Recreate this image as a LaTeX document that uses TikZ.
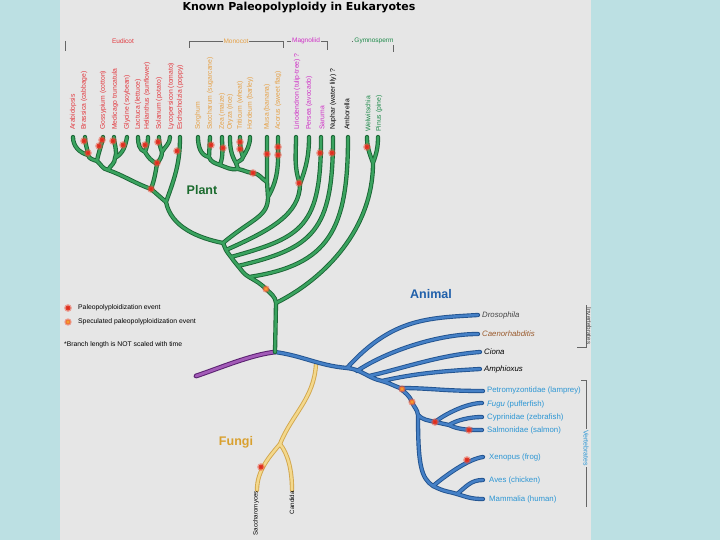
\documentclass[tikz,border=0pt]{standalone}
\usepackage{fontspec}
\setmainfont{Liberation Sans}
\newfontfamily\titlefont{DejaVu Sans}
\definecolor{bgblue}{HTML}{BCE0E3}
\definecolor{panel}{HTML}{E6E6E6}
\definecolor{pdk}{HTML}{1B6535}
\definecolor{plt}{HTML}{3AA35F}
\definecolor{adk}{HTML}{22538F}
\definecolor{alt}{HTML}{4580C6}
\definecolor{fdk}{HTML}{D2A64C}
\definecolor{flt}{HTML}{F3D88C}
\definecolor{udk}{HTML}{5A2170}
\definecolor{ult}{HTML}{A35BB8}
\definecolor{cEu}{HTML}{E2373D}
\definecolor{cMo}{HTML}{E5A045}
\definecolor{cMa}{HTML}{CF2FC6}
\definecolor{cGy}{HTML}{1E8A4A}
\definecolor{cVt}{HTML}{2C96D4}
\definecolor{cCa}{HTML}{9A5A2C}
\definecolor{evr}{HTML}{D8281C}
\definecolor{evh}{HTML}{F0503A}
\definecolor{spo}{HTML}{F2A22E}
\definecolor{plantg}{HTML}{1B6B2E}
\definecolor{animb}{HTML}{1F5FAA}
\definecolor{fungo}{HTML}{D9A02E}
\definecolor{dgray}{HTML}{444444}
\tikzset{
  tube/.style={line width=0.9pt, double distance=2.5pt, line cap=round, line join=round},
  pl/.style={tube, draw=pdk, double=plt},
  an/.style={tube, draw=adk, double=alt},
  fu/.style={tube, draw=fdk, double=flt},
  pu/.style={tube, line width=1pt, double distance=2.8pt, draw=udk, double=ult},
  ev/.style={circle, inner sep=0pt, minimum size=5pt, fill=evr, draw=evh, draw opacity=0.45, line width=2.6pt},
  spv/.style={circle, inner sep=0pt, minimum size=5pt, fill=spo, draw=evh, draw opacity=0.5, line width=2.2pt},
  lab/.style={rotate=90, anchor=west, inner sep=0pt, font=\fontsize{6.8}{7}\selectfont},
  alab/.style={anchor=west, inner sep=0pt, text=cVt, font=\fontsize{7.8}{9}\selectfont},
  blab/.style={inner sep=1pt, fill=panel, font=\fontsize{6.5}{7}\selectfont},
  big/.style={font=\bfseries\fontsize{12.5}{14}\selectfont},
  brk/.style={draw=gray!80!black, line width=0.6pt},
}
\begin{document}
\begin{tikzpicture}[x=1pt,y=1pt]
\useasboundingbox (0,0) rectangle (720,-540);
\fill[bgblue] (0,0) rectangle (720,-540);
\fill[panel] (60,0) rectangle (591,-540);

\node[font=\titlefont\bfseries\fontsize{11}{13}\selectfont] (title) at (299,-8) {Known Paleopolyploidy in Eukaryotes};

% ---- group brackets
\draw[brk] (65,-41) -- (65,-51);
\node[blab, text=cEu] (gEu) at (123,-41) {Eudicot};
\draw[brk] (189,-48) -- (189,-41) -- (283,-41) -- (283,-48);
\node[blab, text=cMo] (gMo) at (236,-41) {Monocot};
\draw[brk] (287,-41) -- (327,-41) -- (327,-50);
\node[blab, text=cMa] (gMa) at (306,-41) {Magnoliid};
\draw[brk] (352,-41) -- (393,-41) -- (393,-52);
\node[blab, text=cGy] (gGy) at (374,-41) {Gymnosperm};

% ---- coordinates: plant
\coordinate (root) at (275,-352);
\coordinate (s1) at (276,-303);
\coordinate (spc) at (266,-289);
\coordinate (s2) at (249,-277);
\coordinate (s3) at (238,-266);
\coordinate (s4) at (231,-257);
\coordinate (s5) at (226,-250);
\coordinate (s6) at (223,-243);
% eudicots
\coordinate (tA) at (73,-137);  \coordinate (tB) at (85,-137);
\coordinate (jAB) at (88,-155);
\coordinate (tGo) at (103,-137); \coordinate (jMal) at (97,-161);
\coordinate (tMe) at (114,-137); \coordinate (tGl) at (127,-137);
\coordinate (jFab) at (115,-158);
\coordinate (jR) at (108,-170);
\coordinate (tLa) at (138,-137); \coordinate (tHe) at (148,-137);
\coordinate (jLH) at (145,-152);
\coordinate (tSo) at (159,-137); \coordinate (tLy) at (170,-137);
\coordinate (jSL) at (162,-152);
\coordinate (jAst) at (157,-164);
\coordinate (jC) at (151,-189);
\coordinate (tEs) at (180,-137);
\coordinate (jE) at (166,-202);
% monocots
\coordinate (tSg) at (198,-137); \coordinate (tSa) at (210,-137);
\coordinate (jSS) at (209,-157);
\coordinate (tZe) at (222,-137); \coordinate (jPan) at (220,-165);
\coordinate (tOr) at (230,-137); \coordinate (tTr) at (240,-137);
\coordinate (tHo) at (250,-137);
\coordinate (jPoo) at (243,-157); \coordinate (jBOP) at (236,-163);
\coordinate (jGr) at (238,-169);
\coordinate (jM1) at (253,-173);
\coordinate (tMu) at (267,-137); \coordinate (jMu) at (267,-182);
\coordinate (tAc) at (278,-137); \coordinate (jMon) at (268,-197);
% magnoliids and others
\coordinate (tLi) at (296,-137); \coordinate (tPe) at (309,-137);
\coordinate (jMg) at (300,-184);
\coordinate (tSr) at (321,-137);
\coordinate (tNu) at (333,-137);
\coordinate (tAm) at (348,-137);
\coordinate (tWe) at (367,-137); \coordinate (tPi) at (378,-137);
\coordinate (jGy) at (373,-163);

% ---- coordinates: animal
\coordinate (a1) at (347,-368);
\coordinate (a2) at (357,-371);
\coordinate (a3) at (369,-376);
\coordinate (a4) at (382,-381);
\coordinate (aV) at (400,-388);
\coordinate (tDr) at (478,-315);
\coordinate (tCa) at (478,-334);
\coordinate (tCi) at (480,-352);
\coordinate (tAp) at (480,-369);
\coordinate (tPm) at (483,-391);
\coordinate (aG) at (412,-402);
\coordinate (aF) at (418,-415);
\coordinate (jFi) at (435,-422);
\coordinate (jCS) at (449,-425);
\coordinate (tFu) at (482,-403);
\coordinate (tCy) at (482,-417);
\coordinate (tSl) at (482,-430);
\coordinate (aT) at (433,-486);
\coordinate (tXe) at (483,-457);
\coordinate (jAM) at (457,-494);
\coordinate (tAv) at (483,-480);
\coordinate (tMa) at (483,-499);

% ---- coordinates: fungi, purple
\coordinate (fS) at (316,-364);
\coordinate (fJ) at (280,-444);
\coordinate (fSa) at (257,-490);
\coordinate (fCa) at (292,-490);
\coordinate (pE) at (196,-376);

% ---- purple branch
\draw[pu] (root) .. controls +(-25,-3) and +(24,8) .. (pE);

% ---- fungi
\draw[fu] (fS) .. controls +(-2,-35) and +(12,30) .. (fJ)
  (fJ) .. controls +(-10,-12) and +(0,20) .. (fSa)
  (fJ) .. controls +(8,-10) and +(0,20) .. (fCa);

% ---- animal
\draw[an] (root) to[out=-8,in=175] (a1) to[out=-5,in=168] (a4) to[out=-15,in=160] (aV)
  (a1) .. controls +(45,50) and +(-50,-3) .. (tDr)
  (a2) .. controls +(30,20) and +(-40,0) .. (tCa)
  (a3) .. controls +(35,8) and +(-40,-3) .. (tCi)
  (a4) .. controls +(35,8) and +(-35,-2) .. (tAp)
  (aV) .. controls +(30,0) and +(-40,0) .. (tPm)
  (aV) to[out=-45,in=110] (aG) to[out=-70,in=95] (aF)
  (aF) .. controls +(0,-50) and +(-12,8) .. (aT)
  (aF) .. controls +(5,-5) and +(-8,2) .. (jFi)
  (jFi) .. controls +(10,8) and +(-15,0) .. (tFu)
  (jFi) -- (jCS)
  (jCS) .. controls +(8,5) and +(-12,0) .. (tCy)
  (jCS) .. controls +(10,-5) and +(-12,0) .. (tSl)
  (aT) .. controls +(12,10) and +(-15,-2) .. (tXe)
  (aT) .. controls +(12,-6) and +(-10,3) .. (jAM)
  (jAM) .. controls +(10,8) and +(-12,0) .. (tAv)
  (jAM) .. controls +(10,-3) and +(-12,0) .. (tMa);

% ---- plant
\draw[pl] (root) -- (s1) to[out=95,in=-45] (spc) to[out=135,in=-30] (s2)
    to[out=150,in=-50] (s3) to[out=130,in=-55] (s4) to[out=125,in=-62] (s5) to[out=118,in=-70] (s6)
  % eudicots
  (tA) to[out=-90,in=165] (jAB)
  (tB) to[out=-90,in=95] (jAB)
  (jAB) to[out=-75,in=160] (jMal)
  (tGo) to[out=-100,in=80] (jMal)
  (tMe) to[out=-90,in=70] (jFab)
  (tGl) to[out=-100,in=30] (jFab)
  (jMal) to[out=-40,in=170] (jR)
  (jFab) to[out=-90,in=60] (jR)
  (jR) to[out=-20,in=160] (jC)
  (tLa) to[out=-90,in=160] (jLH)
  (tHe) to[out=-90,in=70] (jLH)
  (tSo) to[out=-90,in=110] (jSL)
  (tLy) to[out=-90,in=60] (jSL)
  (jLH) to[out=-60,in=150] (jAst)
  (jSL) to[out=-90,in=60] (jAst)
  (jAst) to[out=-100,in=70] (jC)
  (jC) to[out=-40,in=140] (jE)
  (tEs) to[out=-90,in=70] (jE)
  (jE) .. controls +(5,-25) and +(-25,5) .. (s6)
  % monocots
  (tSg) to[out=-90,in=170] (jSS)
  (tSa) -- (jSS)
  (jSS) to[out=-70,in=160] (jPan)
  (tZe) to[out=-90,in=70] (jPan)
  (tTr) to[out=-90,in=110] (jPoo)
  (tHo) to[out=-90,in=60] (jPoo)
  (tOr) to[out=-90,in=120] (jBOP)
  (jPoo) to[out=-100,in=40] (jBOP)
  (jPan) to[out=-20,in=190] (jGr)
  (jBOP) to[out=-80,in=110] (jGr)
  (jGr) to[out=-10,in=175] (jM1)
  (jM1) to[out=-5,in=150] (jMu)
  (tMu) -- (jMu) -- (jMon)
  (tAc) to[out=-90,in=60] (jMon)
  (jMon) .. controls +(0,-20) and +(30,25) .. (s6)
  % magnoliids, ANA, gymnosperms
  (tLi) to[out=-90,in=110] (jMg)
  (tPe) to[out=-90,in=70] (jMg)
  (jMg) .. controls +(0,-30) and +(45,20) .. (s5)
  (tSr) .. controls +(0,-90) and +(72,20) .. (s4)
  (tNu) .. controls +(0,-95) and +(75,18) .. (s3)
  (tAm) .. controls +(0,-93) and +(80,12) .. (s2)
  (tWe) to[out=-90,in=110] (jGy)
  (tPi) to[out=-90,in=70] (jGy)
  (jGy) .. controls +(0,-65) and +(50,25) .. (s1);

% ---- events
\foreach \x/\y [count=\i] in {84/141,88/153,102/140,99/146,113/141,123/145,145/145,158/142,157/163,151/189,177/151,
   211/145,223/148,240/142,240/149,253/173,267/154,278/147,278/155,299/183,320/153,332/153,367/147,
   435/422,469/430,467/460,261/467}
  \node[ev] (ev\i) at (\x,-\y) {};
\node[spv] (sp1) at (spc) {};
\node[spv] (sp2) at (402,-389) {};
\node[spv] (sp3) at (aG) {};

% ---- plant labels
\foreach \x/\t in {73/Arabidopsis,84/Brassica (cabbage),103/Gossypium (cotton),115/Medicago truncatula,
   127/Glycine (soybean),138/Lactuca (lettuce),147/Helianthus (sunflower),159/Solanum (potato),
   171/Lycopersicon (tomato),180/Eschscholzia (poppy)}
  \node[lab, text=cEu] (L\x) at (\x,-130) {\t};
\foreach \x/\t in {198/Sorghum,210/Saccharum (sugarcane),222/Zea (maize),230/Oryza (rice),
   240/Triticum (wheat),250/Hordeum (barley),267/Musa (banana),278/Acorus (sweet flag)}
  \node[lab, text=cMo] (L\x) at (\x,-130) {\t};
\foreach \x/\t in {297/Liriodendron (tulip-tree) ?,309/Persea (avocado),322/Saruma}
  \node[lab, text=cMa] (L\x) at (\x,-130) {\t};
\node[lab, text=black] (L333) at (333,-130) {Nuphar (water lily) ?};
\node[lab, text=black] (L347) at (347,-130) {Amborella};
\node[lab, text=cGy] (L368) at (368,-132) {Welwitschia};
\node[lab, text=cGy] (L379) at (379,-132) {Pinus (pine)};

% ---- big labels
\node[big, text=plantg] (plant) at (202,-190) {Plant};
\node[big, text=animb] (animal) at (431,-294) {Animal};
\node[big, text=fungo] (fungi) at (236,-442) {Fungi};

% ---- animal labels
\node[alab, text=dgray, font=\itshape\fontsize{7.8}{9}\selectfont] (lDr) at (482,-315) {Drosophila};
\node[alab, text=cCa, font=\itshape\fontsize{7.8}{9}\selectfont] (lCa) at (482,-334) {Caenorhabditis};
\node[alab, text=black, font=\itshape\fontsize{7.8}{9}\selectfont] (lCi) at (484,-352) {Ciona};
\node[alab, text=black, font=\itshape\fontsize{7.8}{9}\selectfont] (lAp) at (484,-369) {Amphioxus};
\node[alab] (lPm) at (487,-390) {Petromyzontidae (lamprey)};
\node[alab] (lFu) at (487,-404) {\textit{Fugu} (pufferfish)};
\node[alab] (lCy) at (487,-417) {Cyprinidae (zebrafish)};
\node[alab] (lSl) at (487,-430) {Salmonidae (salmon)};
\node[alab] (lXe) at (489,-457) {Xenopus (frog)};
\node[alab] (lAv) at (489,-480) {Aves (chicken)};
\node[alab] (lMa) at (489,-499) {Mammalia (human)};

% ---- fungi labels
\node[lab, anchor=east, font=\fontsize{6.2}{7}\selectfont] (lSc) at (256,-491) {Saccharomyces};
\node[lab, anchor=east, font=\fontsize{6.2}{7}\selectfont] (lCd) at (292,-491) {Candida};

% ---- invertebrate / vertebrate brackets
\draw[brk] (586,-305) -- (586,-347) -- (577,-347);
\node[rotate=-90, inner sep=0pt, text=dgray, font=\fontsize{6.3}{7}\selectfont] (inv) at (589,-326) {Invertebrates};
\draw[brk] (581,-380) -- (586,-380) -- (586,-507);
\node[rotate=-90, inner sep=1pt, fill=panel, text=cVt, font=\fontsize{7}{8}\selectfont] (vert) at (586,-448) {Vertebrates};

% ---- legend
\node[ev] (lg1) at (68,-308) {};
\node[anchor=west, inner sep=0pt, font=\fontsize{6.8}{8}\selectfont] (lt1) at (78,-308) {Paleopolyploidization event};
\node[spv] (lg2) at (68,-322) {};
\node[anchor=west, inner sep=0pt, font=\fontsize{6.8}{8}\selectfont] (lt2) at (78,-322) {Speculated paleopolyploidization event};
\node[anchor=west, inner sep=0pt, font=\fontsize{6.8}{8}\selectfont] (lt3) at (64,-345) {*Branch length is NOT scaled with time};
\end{tikzpicture}
\end{document}
